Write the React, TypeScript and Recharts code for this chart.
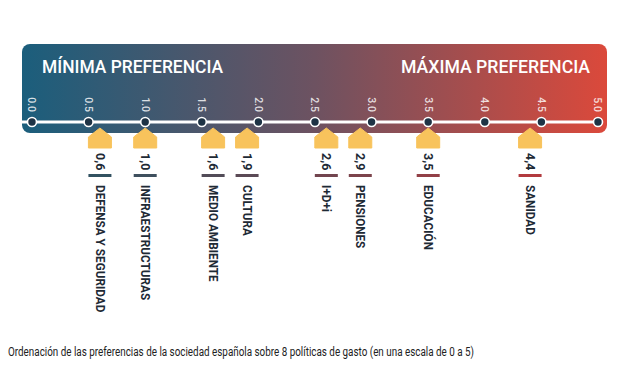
import { ComposedChart, Scatter, XAxis, YAxis, Customized } from "recharts"

const categories = [
  "DEFENSA Y SEGURIDAD",
  "INFRAESTRUCTURAS",
  "MEDIO AMBIENTE",
  "CULTURA",
  "I+D+i",
  "PENSIONES",
  "EDUCACIÓN",
  "SANIDAD",
]
const scores = [0.6, 1.0, 1.6, 1.9, 2.6, 2.9, 3.5, 4.4]
const axisTicks = [0, 0.5, 1, 1.5, 2, 2.5, 3, 3.5, 4, 4.5, 5]

const data = categories.map((name, i) => ({ name, score: scores[i], y: 1 }))

const barStops = ["#1f5667", "#6e4650", "#c8383a"]

function hex(c: string) {
  return [1, 3, 5].map((i) => parseInt(c.slice(i, i + 2), 16))
}

function barColor(v: number) {
  const t = v / 5
  const [a, b, f] = t < 0.5 ? [barStops[0], barStops[1], t * 2] : [barStops[1], barStops[2], (t - 0.5) * 2]
  const ca = hex(a)
  const cb = hex(b)
  return `rgb(${ca.map((x, i) => Math.round(x + (cb[i] - x) * f)).join(",")})`
}

function Banner() {
  return (
    <g>
      <defs>
        <linearGradient id="bannerGrad" x1="0" y1="0" x2="1" y2="0">
          <stop offset="0%" stopColor="#1b5e7c" />
          <stop offset="50%" stopColor="#6d5261" />
          <stop offset="100%" stopColor="#db493b" />
        </linearGradient>
      </defs>
      <rect x={22} y={44} width={585} height={89} rx={8} fill="url(#bannerGrad)" />
      <line x1={22} x2={601} y1={122} y2={122} stroke="#fff" strokeWidth={3} />
      <text x={42} y={73} fill="#fff" fontFamily="Roboto" fontWeight={500} fontSize={19} textLength={181} lengthAdjust="spacingAndGlyphs">
        MÍNIMA PREFERENCIA
      </text>
      <text x={401} y={73} fill="#fff" fontFamily="Roboto" fontWeight={500} fontSize={19} textLength={189} lengthAdjust="spacingAndGlyphs">
        MÁXIMA PREFERENCIA
      </text>
      <text x={8} y={356} fill="#222" fontFamily="Roboto" fontSize={12} textLength={466} lengthAdjust="spacingAndGlyphs">
        Ordenación de las preferencias de la sociedad española sobre 8 políticas de gasto (en una escala de 0 a 5)
      </text>
    </g>
  )
}

function AxisTick(props: any) {
  const { x, y, payload } = props
  return (
    <g>
      <circle cx={x} cy={y} r={4.5} fill="#1e3345" stroke="#fff" strokeWidth={1.6} />
      <text
        transform={`translate(${x} ${y - 10}) rotate(90)`}
        textAnchor="end"
        dy="0.35em"
        fill="rgba(255,255,255,0.82)"
        fontFamily="Roboto"
        fontWeight={500}
        fontSize={10.5}
      >
        {Number(payload.value).toFixed(1)}
      </text>
    </g>
  )
}

function Marker(props: any) {
  const { cx, cy, payload } = props
  const w = 11.5
  const vy = cy + 31
  const ly = cy + 63
  return (
    <g>
      <polygon
        points={`${cx},${cy + 6} ${cx + w},${cy + 15} ${cx + w},${cy + 26} ${cx - w},${cy + 26} ${cx - w},${cy + 15}`}
        fill="#f8c35c"
        stroke="#f8c35c"
        strokeWidth={1}
        strokeLinejoin="round"
      />
      <text
        transform={`translate(${cx} ${vy}) rotate(90)`}
        dy="0.35em"
        fill="#1e2a35"
        fontFamily="Roboto"
        fontWeight={700}
        fontSize={12.5}
      >
        {payload.score.toFixed(1).replace(".", ",")}
      </text>
      <rect x={cx - w} y={cy + 52} width={w * 2} height={3} fill={barColor(payload.score)} />
      <text
        transform={`translate(${cx} ${ly}) rotate(90) scale(0.94 1)`}
        dy="0.35em"
        fill="#1e2a35"
        fontFamily="Roboto"
        fontWeight={700}
        fontSize={12.5}
      >
        {payload.name}
      </text>
    </g>
  )
}

export default function App() {
  return (
    <div style={{ position: "absolute", left: 0, top: 0, width: 620, height: 387, background: "#fff" }}>
      <ComposedChart width={620} height={387} data={data} margin={{ top: 92, right: 22, left: 32, bottom: 40 }}>
        <Customized component={Banner} />
        <XAxis
          type="number"
          dataKey="score"
          domain={[0, 5]}
          ticks={axisTicks}
          orientation="top"
          height={30}
          axisLine={false}
          tickLine={false}
          tickSize={0}
          tickMargin={0}
          interval={0}
          tick={<AxisTick />}
        />
        <YAxis type="number" dataKey="y" domain={[0, 1]} hide />
        <Scatter data={data} dataKey="y" shape={<Marker />} isAnimationActive={false} />
      </ComposedChart>
    </div>
  )
}
